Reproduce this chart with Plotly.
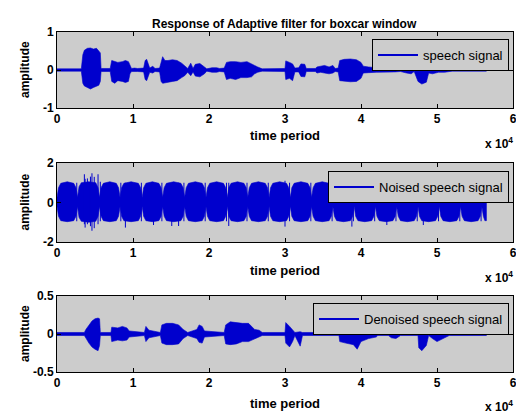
import plotly.graph_objects as go

# ---------------- data (time in units of 1e4 samples) ----------------
title_text = "Response of Adaptive filter for boxcar window"
x_ticks = [0, 1, 2, 3, 4, 5, 6]

# Panel 1: speech signal envelope
t1 = [0.00, 0.32, 0.34, 0.36, 0.40, 0.44, 0.48, 0.52, 0.55, 0.57, 0.58, 0.70, 0.72, 0.76, 0.80, 0.86,
      0.90, 0.94, 0.96, 0.98, 1.02, 1.06, 1.14, 1.16, 1.18, 1.20, 1.22, 1.26, 1.29, 1.35, 1.37, 1.39,
      1.42, 1.46, 1.52, 1.58, 1.64, 1.68, 1.72, 1.76, 1.79, 1.82, 1.88, 1.94, 1.97, 2.04, 2.10, 2.14,
      2.20, 2.23, 2.28, 2.35, 2.42, 2.50, 2.56, 2.60, 2.64, 2.70, 3.00, 3.01, 3.06, 3.10, 3.13, 3.18,
      3.21, 3.26, 3.28, 3.40, 3.42, 3.47, 3.52, 3.58, 3.63, 3.66, 3.70, 3.72, 3.78, 3.86, 3.94, 4.00,
      4.03, 4.10, 4.20, 4.30, 4.38, 4.45, 4.52, 4.60, 4.66, 4.70, 4.75, 4.80, 4.86, 4.89, 4.94, 4.98,
      5.02, 5.10, 5.16, 5.20, 5.65]
hi1 = [0.03, 0.03, 0.40, 0.52, 0.57, 0.58, 0.55, 0.57, 0.50, 0.45, 0.04, 0.04, 0.25, 0.22, 0.20, 0.22,
       0.25, 0.22, 0.10, 0.04, 0.05, 0.04, 0.05, 0.25, 0.28, 0.15, 0.05, 0.10, 0.04, 0.05, 0.25, 0.35,
       0.25, 0.25, 0.27, 0.25, 0.18, 0.12, 0.04, 0.18, 0.04, 0.15, 0.17, 0.08, 0.03, 0.06, 0.06, 0.04,
       0.05, 0.20, 0.22, 0.22, 0.20, 0.22, 0.15, 0.12, 0.08, 0.03, 0.04, 0.24, 0.20, 0.16, 0.05, 0.06,
       0.16, 0.15, 0.04, 0.04, 0.08, 0.10, 0.12, 0.08, 0.12, 0.04, 0.05, 0.25, 0.28, 0.29, 0.27, 0.20,
       0.10, 0.08, 0.06, 0.07, 0.05, 0.06, 0.04, 0.08, 0.10, 0.04, 0.15, 0.15, 0.14, 0.06, 0.10, 0.12,
       0.06, 0.08, 0.07, 0.03, 0.03]
lo1 = [-0.03, -0.03, -0.35, -0.42, -0.47, -0.50, -0.46, -0.42, -0.40, -0.30, -0.04, -0.04, -0.30, -0.35, -0.28, -0.30,
       -0.33, -0.30, -0.10, -0.04, -0.04, -0.04, -0.05, -0.25, -0.28, -0.20, -0.06, -0.08, -0.04, -0.05, -0.30, -0.35,
       -0.32, -0.32, -0.30, -0.28, -0.20, -0.15, -0.06, -0.15, -0.05, -0.16, -0.18, -0.10, -0.03, -0.06, -0.06, -0.04,
       -0.05, -0.25, -0.22, -0.25, -0.20, -0.20, -0.18, -0.10, -0.06, -0.03, -0.04, -0.25, -0.22, -0.28, -0.05, -0.05,
       -0.17, -0.18, -0.04, -0.04, -0.08, -0.06, -0.08, -0.10, -0.08, -0.04, -0.05, -0.28, -0.30, -0.31, -0.30, -0.22,
       -0.08, -0.07, -0.06, -0.06, -0.05, -0.05, -0.04, -0.08, -0.10, -0.04, -0.30, -0.37, -0.32, -0.08, -0.10, -0.08,
       -0.06, -0.06, -0.05, -0.03, -0.03]

# Panel 2: noised speech signal envelope (lobes) plus spikes
t2 = [0.00, 0.02, 0.05, 0.135, 0.22, 0.25,
      0.27, 0.29, 0.32, 0.415, 0.51, 0.54,
      0.56, 0.58, 0.61, 0.695, 0.78, 0.81,
      0.83, 0.85, 0.88, 0.975, 1.07, 1.10,
      1.12, 1.14, 1.17, 1.255, 1.34, 1.37,
      1.39, 1.41, 1.44, 1.535, 1.63, 1.66,
      1.68, 1.70, 1.73, 1.82, 1.91, 1.94,
      1.96, 1.98, 2.01, 2.10, 2.19, 2.22,
      2.24, 2.26, 2.29, 2.375, 2.46, 2.49,
      2.51, 2.53, 2.56, 2.65, 2.74, 2.77,
      2.79, 2.81, 2.84, 2.93, 3.02, 3.05,
      3.07, 3.09, 3.12, 3.21, 3.30, 3.33,
      3.35, 3.37, 3.40, 3.49, 3.58, 3.61,
      3.63, 3.65, 3.68, 3.77, 3.86, 3.89,
      3.91, 3.93, 3.96, 4.05, 4.14, 4.17,
      4.19, 4.21, 4.24, 4.33, 4.42, 4.45,
      4.47, 4.49, 4.52, 4.61, 4.70, 4.73,
      4.75, 4.77, 4.80, 4.89, 4.98, 5.01,
      5.03, 5.05, 5.08, 5.17, 5.26, 5.29,
      5.31, 5.33, 5.36, 5.45, 5.54, 5.57,
      5.59, 5.61, 5.63, 5.65]
hi2 = [0.25, 0.75, 0.97, 1.05, 0.97, 0.75,
       0.25, 0.80, 1.00, 1.05, 1.00, 0.75,
       0.25, 0.75, 0.97, 1.05, 0.97, 0.75,
       0.25, 0.75, 0.97, 1.05, 0.97, 0.75,
       0.25, 0.75, 0.97, 1.05, 0.97, 0.75,
       0.25, 0.75, 0.97, 1.05, 0.97, 0.75,
       0.25, 0.75, 0.97, 1.05, 0.97, 0.75,
       0.25, 0.75, 0.97, 1.05, 0.97, 0.75,
       0.25, 0.75, 0.97, 1.05, 0.97, 0.75,
       0.25, 0.75, 0.97, 1.05, 0.97, 0.75,
       0.25, 0.75, 0.97, 1.05, 0.97, 0.75,
       0.25, 0.75, 0.97, 1.05, 0.97, 0.75,
       0.25, 0.75, 0.97, 1.05, 0.97, 0.75,
       0.25, 0.75, 0.97, 1.05, 0.97, 0.75,
       0.25, 0.75, 0.97, 1.05, 0.97, 0.75,
       0.25, 0.75, 0.97, 1.05, 0.97, 0.75,
       0.25, 0.75, 0.97, 1.05, 0.97, 0.75,
       0.25, 0.75, 0.97, 1.05, 0.97, 0.75,
       0.25, 0.75, 0.97, 1.05, 0.97, 0.75,
       0.25, 0.75, 0.97, 1.05, 0.97, 0.75,
       0.25, 0.75, 0.95, 0.95]
lo2 = [-0.20, -0.70, -0.92, -0.97, -0.92, -0.70,
       -0.20, -0.75, -0.95, -1.00, -0.95, -0.70,
       -0.20, -0.70, -0.92, -0.97, -0.92, -0.70,
       -0.20, -0.70, -0.92, -0.97, -0.92, -0.70,
       -0.20, -0.70, -0.92, -0.97, -0.92, -0.70,
       -0.20, -0.70, -0.92, -0.97, -0.92, -0.70,
       -0.20, -0.70, -0.92, -0.97, -0.92, -0.70,
       -0.20, -0.70, -0.92, -0.97, -0.92, -0.70,
       -0.20, -0.70, -0.92, -0.97, -0.92, -0.70,
       -0.20, -0.70, -0.92, -0.97, -0.92, -0.70,
       -0.20, -0.70, -0.92, -0.97, -0.92, -0.70,
       -0.20, -0.70, -0.92, -0.97, -0.92, -0.70,
       -0.20, -0.70, -0.92, -0.97, -0.92, -0.70,
       -0.20, -0.70, -0.92, -0.97, -0.92, -0.70,
       -0.20, -0.70, -0.92, -0.97, -0.92, -0.70,
       -0.20, -0.70, -0.92, -0.97, -0.92, -0.70,
       -0.20, -0.70, -0.92, -0.97, -0.92, -0.70,
       -0.20, -0.70, -0.92, -0.97, -0.92, -0.70,
       -0.20, -0.70, -0.92, -0.97, -0.92, -0.70,
       -0.20, -0.70, -0.92, -0.97, -0.92, -0.70,
       -0.20, -0.70, -0.92, -0.92]
spike_t = [0.26, 0.36, 0.37, 0.40, 0.44, 0.46, 0.49, 0.54, 0.57, 0.84, 0.90, 1.11, 1.27, 1.38, 1.51,
           1.60, 1.67, 1.95, 2.23, 2.26, 2.50, 2.78, 3.00, 3.06, 3.34, 3.62, 3.88, 3.90, 4.18, 4.34,
           4.46, 4.74, 4.82, 5.02, 5.30, 5.58]
spike_hi = [1.00, 1.43, 1.20, 1.22, 1.31, 1.48, 1.30, 1.43, 1.05, 1.00, 1.00, 1.00, 1.00, 1.00, 1.00,
            1.00, 1.00, 1.00, 1.00, 1.00, 1.00, 1.00, 1.10, 1.00, 1.00, 1.00, 1.00, 1.00, 1.00, 1.00,
            1.00, 1.00, 1.00, 1.00, 1.00, 1.00]
spike_lo = [-0.95, -1.10, -1.27, -1.10, -1.20, -1.43, -1.30, -1.10, -0.95, -0.95, -1.27, -0.95, -1.14, -0.95, -1.19,
            -1.19, -0.95, -0.95, -0.95, -1.19, -0.95, -0.95, -1.22, -0.95, -0.95, -0.95, -1.22, -0.95, -0.95, -1.14,
            -0.95, -0.95, -1.14, -0.95, -0.95, -0.95]

# Panel 3: denoised speech signal envelope
t3 = [0.00, 0.36, 0.38, 0.42, 0.46, 0.50, 0.54, 0.56, 0.57, 0.71, 0.72, 0.80, 0.86, 0.92, 0.95, 1.15,
      1.17, 1.21, 1.36, 1.38, 1.44, 1.52, 1.60, 1.66, 1.72, 1.84, 1.87, 1.91, 1.94, 2.20, 2.22, 2.28,
      2.36, 2.44, 2.52, 2.60, 2.66, 2.70, 3.00, 3.01, 3.06, 3.10, 3.13, 3.20, 3.23, 3.71, 3.72, 3.80,
      3.90, 3.95, 4.00, 4.10, 4.20, 4.22, 4.36, 4.40, 4.46, 4.52, 4.75, 4.76, 4.80, 4.86, 4.89, 4.94,
      5.00, 5.10, 5.16, 5.65]
hi3 = [0.02, 0.02, 0.06, 0.12, 0.17, 0.20, 0.21, 0.20, 0.02, 0.02, 0.09, 0.08, 0.10, 0.08, 0.04, 0.02,
       0.10, 0.05, 0.02, 0.12, 0.14, 0.14, 0.12, 0.06, 0.02, 0.06, 0.12, 0.10, 0.04, 0.02, 0.12, 0.16,
       0.15, 0.14, 0.14, 0.06, 0.05, 0.02, 0.02, 0.15, 0.10, 0.06, 0.02, 0.03, 0.02, 0.02, 0.07, 0.07,
       0.07, 0.06, 0.07, 0.06, 0.05, 0.02, 0.02, 0.05, 0.03, 0.02, 0.02, 0.08, 0.08, 0.08, 0.02, 0.06,
       0.07, 0.06, 0.02, 0.02]
lo3 = [-0.02, -0.02, -0.05, -0.12, -0.17, -0.20, -0.22, -0.15, -0.02, -0.02, -0.10, -0.08, -0.09, -0.08, -0.04, -0.02,
       -0.10, -0.05, -0.02, -0.12, -0.14, -0.14, -0.13, -0.06, -0.02, -0.06, -0.11, -0.12, -0.04, -0.02, -0.13, -0.14,
       -0.13, -0.10, -0.10, -0.06, -0.04, -0.02, -0.02, -0.12, -0.17, -0.10, -0.02, -0.16, -0.02, -0.02, -0.10, -0.12,
       -0.14, -0.20, -0.10, -0.06, -0.04, -0.02, -0.02, -0.05, -0.06, -0.02, -0.02, -0.18, -0.22, -0.15, -0.02, -0.06,
       -0.10, -0.05, -0.02, -0.02]

legend_names = ["speech signal", "Noised speech signal", "Denoised speech signal"]
y_ranges = [[-1, 1], [-2, 2], [-0.5, 0.5]]
y_ticks = [[-1, 0, 1], [-2, 0, 2], [-0.5, 0, 0.5]]
y_ticktext = [["-1", "0", "1"], ["-2", "0", "2"], ["-0.5", "0", "0.5"]]

# ---------------- figure ----------------
W, H = 516, 414
BLUE = "#0000CD"
FONT = "Liberation Sans, Arial, sans-serif"

def py(y_px):
    return 1 - y_px / H

def px(x_px):
    return x_px / W

panels_px = [(32, 108), (163, 242), (296, 372)]
x_dom = [px(57), px(513)]

fig = go.Figure()

envs = [(t1, hi1, lo1), (t2, hi2, lo2), (t3, hi3, lo3)]
for i, (t, hi, lo) in enumerate(envs):
    ax = "" if i == 0 else str(i + 1)
    fig.add_trace(go.Scatter(
        x=list(t) + list(t)[::-1], y=list(hi) + list(lo)[::-1],
        mode="lines", fill="toself", fillcolor=BLUE,
        line=dict(color=BLUE, width=0.6), showlegend=False, hoverinfo="skip",
        xaxis="x" + ax, yaxis="y" + ax))
    if i == 1:
        sx, sy = [], []
        for tt, h, l in zip(spike_t, spike_hi, spike_lo):
            sx += [tt, tt, None]
            sy += [l, h, None]
        fig.add_trace(go.Scatter(x=sx, y=sy, mode="lines", line=dict(color=BLUE, width=1),
                                 showlegend=False, hoverinfo="skip", xaxis="x2", yaxis="y2"))
    fig.add_trace(go.Scatter(
        x=[None], y=[None], mode="lines", line=dict(color=BLUE, width=2),
        name=legend_names[i], legend="legend" if i == 0 else "legend" + str(i + 1),
        xaxis="x" + ax, yaxis="y" + ax))

tickfont = dict(family=FONT, size=12, color="black", weight="bold")
layout = dict(
    width=W, height=H, margin=dict(l=0, r=0, t=0, b=0, pad=0, autoexpand=False),
    paper_bgcolor="white", plot_bgcolor="#CCCCCC",
    font=dict(family=FONT, color="black"),
)
legend_boxes = [(509, 39), (509, 171), (509, 303)]
for i in range(3):
    ax = "" if i == 0 else str(i + 1)
    top, bot = panels_px[i]
    layout["xaxis" + ax] = dict(
        domain=x_dom, range=[0, 6], tickvals=x_ticks, ticktext=[str(v) for v in x_ticks],
        ticks="inside", ticklen=4, tickcolor="black", showline=True, linecolor="black",
        linewidth=1, mirror="ticks", showgrid=False, zeroline=False, tickfont=tickfont,
        anchor="y" + ax, fixedrange=True, automargin=False, ticklabeloverflow="allow")
    layout["yaxis" + ax] = dict(
        domain=[py(bot), py(top)], range=y_ranges[i], tickvals=y_ticks[i], ticktext=y_ticktext[i],
        ticks="inside", ticklen=4, tickcolor="black", showline=True, linecolor="black",
        linewidth=1, mirror="ticks", showgrid=False, zeroline=False, tickfont=tickfont,
        anchor="x" + ax, fixedrange=True, automargin=False)
    lx, ly = legend_boxes[i]
    layout["legend" if i == 0 else "legend" + str(i + 1)] = dict(
        x=px(lx), y=py(ly), xanchor="right", yanchor="top", bgcolor="#CCCCCC",
        bordercolor="black", borderwidth=1, itemwidth=40,
        font=dict(family=FONT, size=13, color="black"))

annotations = [dict(text="<b>" + title_text + "</b>", x=px(284), y=py(15), xref="paper", yref="paper",
                    showarrow=False, font=dict(family=FONT, size=12, color="black"))]
xtitle_y = [135, 270, 403]
x10_y = [143, 277, 406]
for i in range(3):
    top, bot = panels_px[i]
    annotations.append(dict(text="<b>time period</b>", x=px(285), y=py(xtitle_y[i]), xref="paper",
                            yref="paper", showarrow=False, yanchor="middle",
                            font=dict(family=FONT, size=13, color="black")))
    annotations.append(dict(text="<b>x 10<sup>4</sup></b>", x=px(515), y=py(x10_y[i]), xref="paper",
                            yref="paper", showarrow=False, xanchor="right", yanchor="middle",
                            font=dict(family=FONT, size=12, color="black")))
    annotations.append(dict(text="<b>amplitude</b>", x=px(25), y=py((top + bot) / 2), xref="paper",
                            yref="paper", showarrow=False, textangle=-90, xanchor="center",
                            yanchor="middle", font=dict(family=FONT, size=12, color="black")))
layout["annotations"] = annotations
fig.update_layout(**layout)
fig.write_html("out.html", config={"displayModeBar": False},
               post_script="document.body.style.margin='0px';")
